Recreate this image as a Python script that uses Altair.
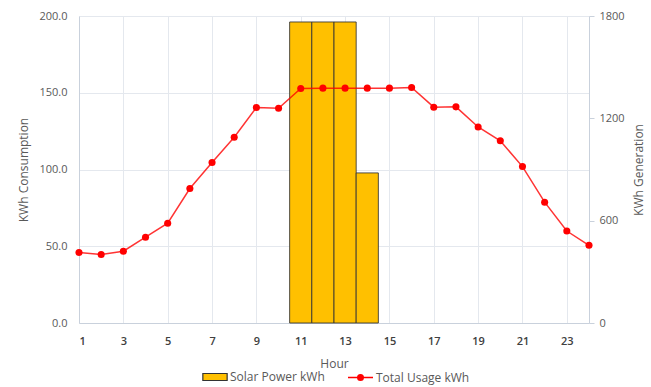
import altair as alt
import pandas as pd

hours = list(range(1, 25))
usage = [45.9, 44.6, 46.8, 55.9, 65.0, 87.6, 104.6, 121.0, 140.4, 139.9, 152.8, 153.0,
         153.0, 153.0, 153.0, 153.4, 140.6, 140.8, 127.7, 118.7, 101.9, 78.7, 59.9, 50.6]
solar_hours = [11, 12, 13, 14]
solar = [1765, 1765, 1765, 880]
x_ticks = list(range(1, 24, 2))
left_ticks = [0, 50, 100, 150, 200]
right_ticks = [0, 600, 1200, 1800]

FONT = "Open Sans"
GRID = "#E4E8EE"
DOMAIN = "#C9D1DC"

line_df = pd.DataFrame({"Hour": hours, "Usage": usage})
line_df["series"] = "Total Usage kWh"
bar_df = pd.DataFrame({"Hour": solar_hours, "Solar": solar})
bar_df["series"] = "Solar Power kWh"
bar_df["h0"] = bar_df["Hour"] - 0.5
bar_df["h1"] = bar_df["Hour"] + 0.5

x_scale = alt.Scale(domain=[1, 24], nice=False, zero=False)
x_axis = alt.Axis(values=x_ticks, title="Hour", grid=True, gridColor=GRID, domainColor=DOMAIN,
                  ticks=False, labelPadding=12, labelFontSize=11, labelFont=FONT,
                  labelColor="#404040", labelFontWeight=600, titleFont=FONT, titleFontSize=12,
                  titleColor="#595959", titleFontWeight="normal", titlePadding=12)

bars = alt.Chart(bar_df).mark_bar(stroke="#333333", strokeWidth=1, strokeOpacity=0.85).encode(
    x=alt.X("h0:Q", scale=x_scale, axis=x_axis),
    x2="h1:Q",
    y=alt.Y("Solar:Q", scale=alt.Scale(domain=[0, 1800], nice=False),
            axis=alt.Axis(orient="right", values=right_ticks, format="d", title="KWh Generation",
                          grid=False, domainColor=DOMAIN, tickColor=DOMAIN, tickSize=5,
                          labelPadding=5, labelFont=FONT, labelFontSize=11, labelColor="#595959",
                          titleFont=FONT, titleFontSize=12, titleColor="#595959",
                          titleFontWeight="normal", titleAngle=270, titlePadding=21)),
    y2=alt.datum(0),
    fill=alt.Fill("series:N", scale=alt.Scale(domain=["Solar Power kWh"], range=["#FFC000"]),
                  legend=alt.Legend(title=None, orient="none", legendX=123, legendY=348,
                                    symbolType="M-1,-0.29L1,-0.29L1,0.29L-1,0.29Z",
                                    symbolSize=590, symbolStrokeColor="#333333",
                                    symbolStrokeWidth=1.2, labelFont=FONT, labelFontSize=12,
                                    labelColor="#595959", labelOffset=2, padding=0)),
)

left_y = alt.Y("Usage:Q", scale=alt.Scale(domain=[0, 200], nice=False),
               axis=alt.Axis(orient="left", values=left_ticks, format=".1f",
                             title="KWh Consumption", grid=True, gridColor=GRID,
                             domainColor=DOMAIN, ticks=False, labelPadding=12,
                             labelFont=FONT, labelFontSize=11, labelColor="#595959",
                             titleFont=FONT, titleFontSize=12, titleColor="#595959",
                             titleFontWeight="normal", titlePadding=8))

line = alt.Chart(line_df).mark_line(color="#FF0000", strokeWidth=1.5, opacity=0.8).encode(
    x=alt.X("Hour:Q", scale=x_scale, axis=x_axis),
    y=left_y,
)

points = alt.Chart(line_df).mark_circle(size=50, opacity=1).encode(
    x=alt.X("Hour:Q", scale=x_scale, axis=x_axis),
    y=left_y,
    color=alt.Color("series:N", scale=alt.Scale(domain=["Total Usage kWh"], range=["#FF0000"]),
                    legend=alt.Legend(title=None, orient="none", legendX=268, legendY=348,
                                      symbolType="M-1,0L1,0M-0.22,0A0.22,0.22,0,1,0,0.22,0A0.22,0.22,0,1,0,-0.22,0",
                                      symbolSize=625, symbolStrokeColor="#FF0000",
                                      symbolStrokeWidth=1.5, symbolOpacity=1, labelFont=FONT,
                                      labelFontSize=12, labelColor="#595959", labelOffset=2,
                                      padding=0)),
)

chart = alt.layer(bars, alt.layer(line, points)).resolve_scale(y="independent").properties(
    width=510, height=307,
    autosize=alt.AutoSizeParams(type="none"),
    padding={"left": 79, "top": 16, "right": 62, "bottom": 64},
    background="white",
).configure_view(stroke=None)

chart.save("out.html", embed_options={"renderer": "svg", "actions": False})
